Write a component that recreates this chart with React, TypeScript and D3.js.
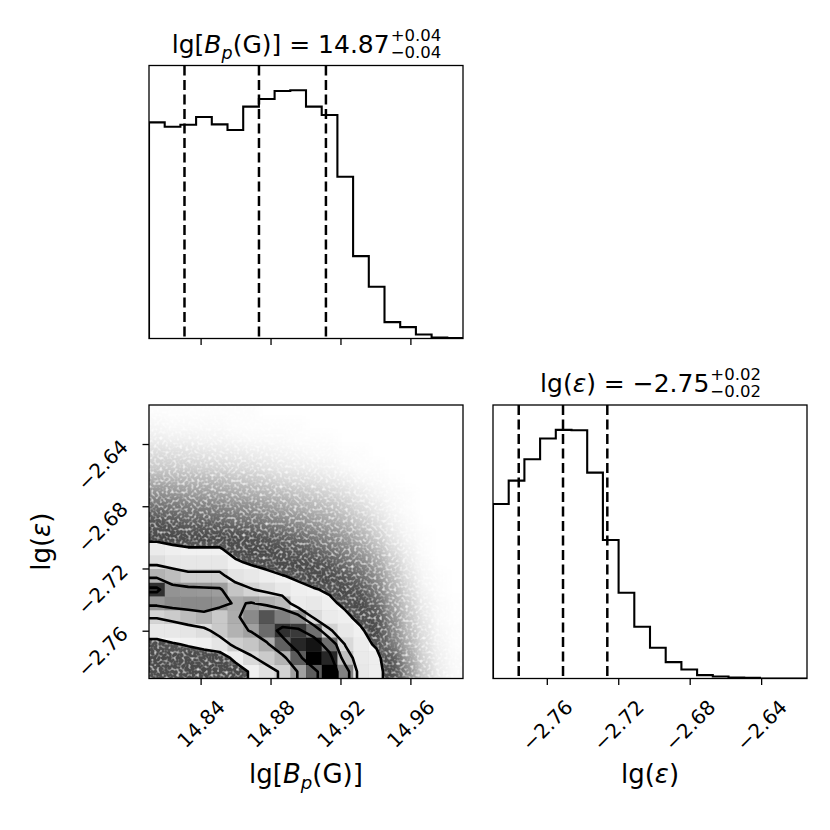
import React from 'react';
import * as d3 from 'd3';

// axis ranges (same bins for the marginals and the 2D panel)
const bpDomain = [14.8102, 14.9898];
const epsDomain = [-2.7904, -2.6146];
const bpTicks = [14.84, 14.88, 14.92, 14.96];
const epsTicks = [-2.76, -2.72, -2.68, -2.64];

// marginal histograms, 20 bins each, low to high
const bpCounts = [648, 635, 641, 664, 642, 625, 695, 718, 742, 744, 695, 670, 485, 247, 155, 49, 34, 12, 3, 1];
const epsCounts = [523, 593, 657, 719, 745, 744, 617, 415, 257, 155, 92, 49, 27, 10, 6, 3, 2, 0, 0, 0];

// 16 / 50 / 84 per cent lines
const bpQuantiles = [14.8305, 14.8731, 14.9114];
const epsQuantiles = [-2.776, -2.7512, -2.7264];

const bpTitle = { value: '14.87', plus: '+0.04', minus: '\u22120.04' };
const epsTitle = { value: '\u22122.75', plus: '+0.02', minus: '\u22120.02' };

// 2D density (max = 100), one array per lg Bp bin (left to right),
// each listed from the top of the panel (high lg eps) downwards
const densityColumns = [
  [0.1, 0.3, 0.6, 1.2, 1.8, 3.2, 5, 7.5, 11, 16, 28, 36, 55, 90, 64, 41, 30, 17, 14, 12],
  [0.1, 0.2, 0.5, 1.1, 1.7, 3, 4.6, 7, 10, 14, 25, 31, 51, 65, 68, 45, 30, 21, 15, 12],
  [0.1, 0.2, 0.5, 1, 1.6, 2.8, 4.3, 6.5, 9, 12, 23, 31, 44, 64, 68, 51, 32, 23, 16, 13],
  [0.1, 0.2, 0.4, 0.9, 1.5, 2.7, 4.1, 6.2, 8.8, 12, 23, 31, 44, 63, 68, 55, 36, 25, 17, 14],
  [0.1, 0.2, 0.4, 0.8, 1.4, 2.5, 3.9, 5.8, 8.3, 12, 23, 31, 44, 62, 66, 46, 46, 32, 14, 12],
  [0.1, 0.1, 0.3, 0.7, 1.2, 2.2, 3.5, 5.3, 7.5, 12, 16, 24, 33, 48, 58, 57, 55, 44, 26, 14],
  [0.1, 0.1, 0.2, 0.6, 1.1, 2, 3.2, 4.9, 7, 11, 14, 20, 30, 41, 61, 68, 61, 48, 38, 24],
  [0, 0.1, 0.2, 0.5, 0.9, 1.7, 2.8, 4.3, 6.2, 9.5, 13, 17, 26, 36, 56, 82, 76, 57, 45, 35],
  [0, 0.1, 0.2, 0.4, 0.7, 1.4, 2.5, 3.8, 5.4, 8.5, 11, 14, 22.5, 30, 52, 71, 90, 79, 54, 42],
  [0, 0.1, 0.1, 0.3, 0.6, 1.2, 2.1, 3.3, 4.8, 7.5, 10, 14, 20, 25, 28, 66, 88, 92, 80, 61],
  [0, 0, 0.1, 0.2, 0.5, 1, 1.8, 2.8, 4.2, 6, 8.5, 11.5, 15, 23, 30, 37, 75, 96, 100, 80],
  [0, 0, 0.1, 0.2, 0.4, 0.8, 1.5, 2.4, 3.5, 5, 7, 10, 13, 20, 25, 28, 42, 75, 92, 100],
  [0, 0, 0, 0.1, 0.2, 0.6, 1.1, 1.8, 2.7, 4, 5.5, 7.5, 10, 13, 19, 25, 30, 39, 50, 70],
  [0, 0, 0, 0.1, 0.1, 0.3, 0.7, 1.2, 1.9, 2.9, 4, 5.6, 7.5, 10, 13, 17.5, 24, 27, 29, 30],
  [0, 0, 0, 0, 0.1, 0.2, 0.4, 0.7, 1.1, 1.7, 2.5, 3.6, 4.8, 6.3, 8.2, 10.5, 14, 20, 26, 26],
  [0, 0, 0, 0, 0, 0.1, 0.2, 0.3, 0.5, 0.8, 1.2, 1.8, 2.5, 3.2, 4, 4.8, 5.6, 6.5, 10, 16],
  [0, 0, 0, 0, 0, 0, 0.1, 0.1, 0.2, 0.3, 0.5, 0.7, 1, 1.4, 1.8, 2.2, 2.6, 3.2, 4, 5],
  [0, 0, 0, 0, 0, 0, 0, 0, 0, 0.1, 0.1, 0.2, 0.3, 0.4, 0.6, 0.8, 1, 1.2, 1.5, 1.8],
  [0, 0, 0, 0, 0, 0, 0, 0, 0, 0, 0, 0, 0.1, 0.1, 0.2, 0.2, 0.3, 0.4, 0.5, 0.6],
  [0, 0, 0, 0, 0, 0, 0, 0, 0, 0, 0, 0, 0, 0, 0.05, 0.05, 0.1, 0.1, 0.2, 0.2],
];
const contourLevels = [22, 40, 60, 85];

const NB = 20;
const FONT = '"DejaVu Sans", sans-serif';
const TICK_SIZE = 20;
const LABEL_SIZE = 26;
const TITLE_SIZE = 25;

const measureCtx = document.createElement('canvas').getContext('2d');
function measure(text, size, italic = false) {
  measureCtx.font = `${italic ? 'italic ' : ''}${size}px "DejaVu Sans"`;
  return measureCtx.measureText(text).width;
}

// little mathtext-like line: pieces, optional stacked sup/sub at the end
function MathText({ pieces, size, x, y, rotate = 0, scripts = null }) {
  const small = size * 0.7;
  const scriptSize = size * 0.66;
  const widths = pieces.map(p => measure(p.t, p.sub ? small : size, p.it));
  const scriptW = scripts ? Math.max(measure(scripts[0], scriptSize), measure(scripts[1], scriptSize)) : 0;
  const total = d3.sum(widths) + scriptW;
  let cx = -total / 2;
  const els = pieces.map((p, i) => {
    const el = (
      <text key={i} x={cx} y={p.sub ? size * 0.22 : 0}
        fontSize={p.sub ? small : size} fontStyle={p.it ? 'italic' : 'normal'}
        style={{ whiteSpace: 'pre' }}>{p.t}</text>
    );
    cx += widths[i];
    return el;
  });
  return (
    <g transform={`translate(${x},${y}) rotate(${rotate})`} fontFamily={FONT} fill="#000">
      {els}
      {scripts && (
        <>
          <text x={cx + 1} y={-size * 0.49} fontSize={scriptSize}>{scripts[0]}</text>
          <text x={cx + 1} y={size * 0.18} fontSize={scriptSize}>{scripts[1]}</text>
        </>
      )}
    </g>
  );
}

const fmtTick = v => d3.format('.2f')(v).replace('-', '\u2212');

const bpLabel = [{ t: 'lg[' }, { t: 'B', it: true }, { t: 'p', it: true, sub: true }, { t: '(G)]' }];
const epsLabel = [{ t: 'lg(' }, { t: '\u03b5', it: true }, { t: ')' }];

function stepPath(counts, x, y, lo, step) {
  let p = `M${x(lo)},${y(0)}`;
  counts.forEach((c, i) => {
    p += `V${y(c)}H${x(lo + (i + 1) * step)}`;
  });
  return p + `V${y(0)}`;
}

export default function App() {
  const colX = [[149, 463], [493, 807]];
  const rowY = [[65.5, 338.5], [405, 678.5]];

  const xBp = d3.scaleLinear().domain(bpDomain).range(colX[0]);
  const xEps = d3.scaleLinear().domain(epsDomain).range(colX[1]);
  const yEps = d3.scaleLinear().domain(epsDomain).range([rowY[1][1], rowY[1][0]]);
  const yTop = d3.scaleLinear().domain([0, 1.1 * d3.max(bpCounts)]).range([rowY[0][1], rowY[0][0]]);
  const yRight = d3.scaleLinear().domain([0, 1.1 * d3.max(epsCounts)]).range([rowY[1][1], rowY[1][0]]);

  const bpStep = (bpDomain[1] - bpDomain[0]) / NB;
  const epsStep = (epsDomain[1] - epsDomain[0]) / NB;
  const hMax = d3.max(densityColumns.flat());

  // padded grid (edge values repeated) so contours cross the frame
  const padded = [];
  for (let j = 0; j < NB + 2; j++) {
    for (let i = 0; i < NB + 2; i++) {
      const c = Math.min(NB - 1, Math.max(0, i - 1));
      const r = Math.min(NB - 1, Math.max(0, j - 1));
      padded.push(densityColumns[c][r]);
    }
  }
  const contours = d3.contours().size([NB + 2, NB + 2]).thresholds(contourLevels)(padded);
  const gx = cx => xBp(bpDomain[0] + (cx - 1) * bpStep);
  const gy = cy => yEps(epsDomain[1] - (cy - 1) * epsStep);
  const geomPath = g => g.coordinates.map(poly => poly.map(ring =>
    'M' + ring.map(([a, b]) => `${gx(a).toFixed(2)},${gy(b).toFixed(2)}`).join('L') + 'Z').join('')).join('');

  // darkness of the sample cloud outside the contours
  const cloudAlpha = v => Math.min(0.8, 1 - Math.exp(-0.12 * v));

  const [cx0, cx1] = colX[0];
  const [cy0, cy1] = rowY[1];

  const cells = [];
  densityColumns.forEach((col, c) => {
    col.forEach((v, r) => {
      const xa = xBp(bpDomain[0] + c * bpStep);
      const xb = xBp(bpDomain[0] + (c + 1) * bpStep);
      const ya = yEps(epsDomain[1] - r * epsStep);
      const yb = yEps(epsDomain[1] - (r + 1) * epsStep);
      cells.push({ c, r, v, xa, xb, ya, yb });
    });
  });

  const tickLen = 6.5;
  const xTickLabel = (x, text, key) => {
    const L = measure(text, TICK_SIZE);
    const side = (L + TICK_SIZE * 0.8) / Math.SQRT2;
    const cy = 698 + side / 2;
    return (
      <text key={key} x={x} y={cy} transform={`rotate(-45 ${x} ${cy})`} textAnchor="middle"
        dominantBaseline="central" fontSize={TICK_SIZE} fontFamily={FONT}>{text}</text>
    );
  };
  const yTickLabel = (y, text, key) => {
    const L = measure(text, TICK_SIZE);
    const side = (L + TICK_SIZE * 0.8) / Math.SQRT2;
    const cx = 130 - side / 2;
    const cy = y + 20.5;
    return (
      <text key={key} x={cx} y={cy} transform={`rotate(-45 ${cx} ${cy})`} textAnchor="middle"
        dominantBaseline="central" fontSize={TICK_SIZE} fontFamily={FONT}>{text}</text>
    );
  };

  const frame = (x, y) => (
    <rect x={x[0]} y={y[0]} width={x[1] - x[0]} height={y[1] - y[0]} fill="none" stroke="#000" strokeWidth={1.3} />
  );

  return (
    <div style={{ position: 'absolute', left: 0, top: 0 }}>
      <svg width={830} height={830} style={{ display: 'block', background: '#fff' }}>
        <defs>
          <clipPath id="clipA"><rect x={colX[0][0]} y={rowY[0][0]} width={314} height={273} /></clipPath>
          <clipPath id="clipC"><rect x={cx0} y={cy0} width={cx1 - cx0} height={cy1 - cy0} /></clipPath>
          <clipPath id="clipD"><rect x={colX[1][0]} y={rowY[1][0]} width={314} height={273.5} /></clipPath>
          <filter id="cloudFx" filterUnits="userSpaceOnUse" x={cx0 - 30} y={cy0 - 30} width={cx1 - cx0 + 60} height={cy1 - cy0 + 60}>
            <feGaussianBlur in="SourceGraphic" stdDeviation="5" result="soft" />
            <feTurbulence type="fractalNoise" baseFrequency="0.35" numOctaves="1" seed="7" result="grain" />
            <feColorMatrix in="grain" type="matrix"
              values="0 0 0 0 0  0 0 0 0 0  0 0 0 0 0  2.4 0 0 0 -0.25" result="grainA" />
            <feComposite in="soft" in2="grainA" operator="arithmetic" k1="1" k2="0" k3="0" k4="0" />
          </filter>
        </defs>

        {/* top marginal: lg Bp */}
        <g clipPath="url(#clipA)">
          <path d={stepPath(bpCounts, xBp, yTop, bpDomain[0], bpStep)} fill="none" stroke="#000" strokeWidth={2.1} />
          {bpQuantiles.map((q, i) => (
            <line key={i} x1={xBp(q)} x2={xBp(q)} y1={rowY[0][0]} y2={rowY[0][1]}
              stroke="#000" strokeWidth={2.5} strokeDasharray="10,4.5" />
          ))}
        </g>
        {frame(colX[0], rowY[0])}
        {bpTicks.map((t, i) => (
          <line key={i} x1={xBp(t)} x2={xBp(t)} y1={rowY[0][1]} y2={rowY[0][1] + tickLen} stroke="#000" strokeWidth={1.3} />
        ))}
        <MathText pieces={[...bpLabel, { t: ' = ' + bpTitle.value }]} size={TITLE_SIZE}
          x={(colX[0][0] + colX[0][1]) / 2} y={53.3} scripts={[bpTitle.plus, bpTitle.minus]} />

        {/* 2D panel */}
        <g clipPath="url(#clipC)">
          <g filter="url(#cloudFx)">
            {cells.map(d => (
              <rect key={`s${d.c}-${d.r}`}
                x={d.c === 0 ? d.xa - 25 : d.xa} y={d.r === 0 ? d.ya - 25 : d.ya}
                width={d.xb - d.xa + (d.c === 0 || d.c === NB - 1 ? 25 : 0) + 0.3}
                height={d.yb - d.ya + (d.r === 0 || d.r === NB - 1 ? 25 : 0) + 0.3}
                fill="#000" fillOpacity={cloudAlpha(d.v)} />
            ))}
          </g>
          <path d={geomPath(contours[0])} fill="#fff" stroke="none" fillRule="evenodd" />
          {cells.map(d => {
            const h = d.v / hMax;
            const g = Math.round(255 * (1 - h));
            return (
              <rect key={`p${d.c}-${d.r}`} x={d.xa} y={d.ya} width={d.xb - d.xa + 0.2} height={d.yb - d.ya + 0.2}
                fill={`rgb(${g},${g},${g})`} fillOpacity={h} />
            );
          })}
          {contours.map((g, i) => (
            <path key={i} d={geomPath(g)} fill="none" stroke="#000" strokeWidth={2.6} strokeLinejoin="round" />
          ))}
        </g>
        {frame(colX[0], rowY[1])}
        {bpTicks.map((t, i) => (
          <g key={i}>
            <line x1={xBp(t)} x2={xBp(t)} y1={cy1} y2={cy1 + tickLen} stroke="#000" strokeWidth={1.3} />
            {xTickLabel(xBp(t), fmtTick(t), 'l')}
          </g>
        ))}
        {epsTicks.map((t, i) => (
          <g key={i}>
            <line x1={cx0 - tickLen} x2={cx0} y1={yEps(t)} y2={yEps(t)} stroke="#000" strokeWidth={1.3} />
            {yTickLabel(yEps(t), fmtTick(t), 'l')}
          </g>
        ))}
        <MathText pieces={bpLabel} size={LABEL_SIZE} x={(cx0 + cx1) / 2} y={783} />
        <MathText pieces={epsLabel} size={LABEL_SIZE} x={50} y={(cy0 + cy1) / 2} rotate={-90} />

        {/* right marginal: lg eps */}
        <g clipPath="url(#clipD)">
          <path d={stepPath(epsCounts, xEps, yRight, epsDomain[0], epsStep)} fill="none" stroke="#000" strokeWidth={2.1} />
          {epsQuantiles.map((q, i) => (
            <line key={i} x1={xEps(q)} x2={xEps(q)} y1={rowY[1][0]} y2={rowY[1][1]}
              stroke="#000" strokeWidth={2.5} strokeDasharray="10,4.5" />
          ))}
        </g>
        {frame(colX[1], rowY[1])}
        {epsTicks.map((t, i) => (
          <g key={i}>
            <line x1={xEps(t)} x2={xEps(t)} y1={rowY[1][1]} y2={rowY[1][1] + tickLen} stroke="#000" strokeWidth={1.3} />
            {xTickLabel(xEps(t), fmtTick(t), 'l')}
          </g>
        ))}
        <MathText pieces={[...epsLabel, { t: ' = ' + epsTitle.value }]} size={TITLE_SIZE}
          x={(colX[1][0] + colX[1][1]) / 2} y={392.4} scripts={[epsTitle.plus, epsTitle.minus]} />
        <MathText pieces={epsLabel} size={LABEL_SIZE} x={(colX[1][0] + colX[1][1]) / 2} y={783} />
      </svg>
    </div>
  );
}
